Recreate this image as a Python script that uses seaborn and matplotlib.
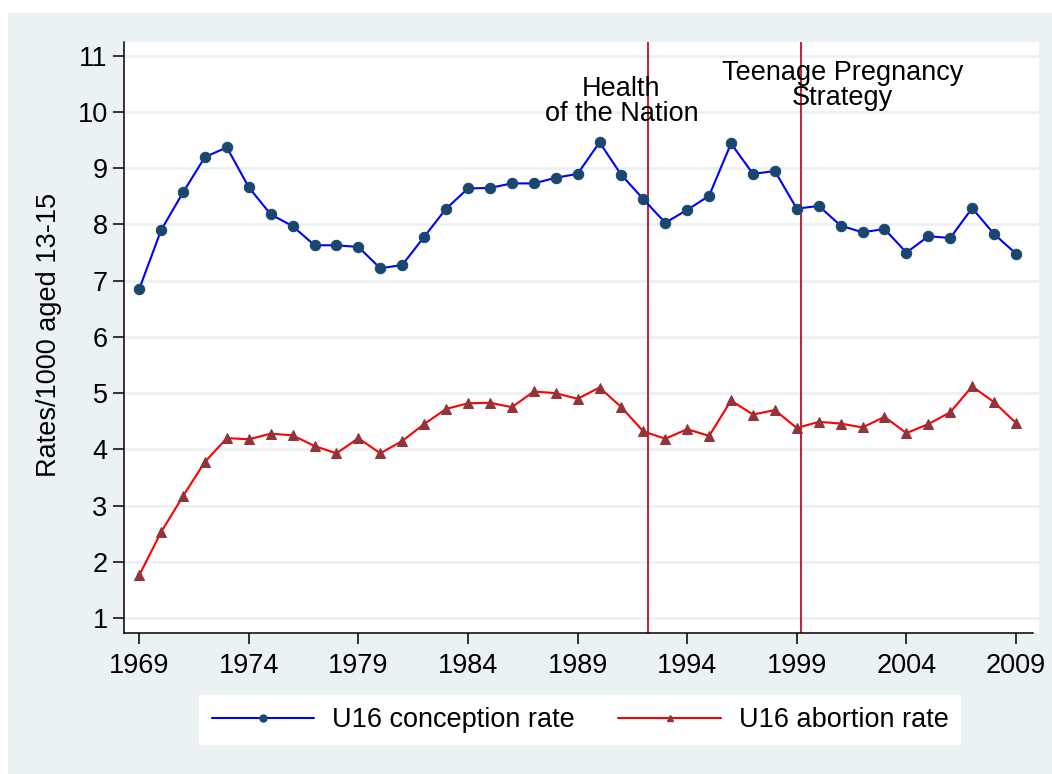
import matplotlib
matplotlib.use("Agg")
import matplotlib.pyplot as plt
import seaborn as sns
import numpy as np
import pandas as pd
from matplotlib.patches import Rectangle
from matplotlib.lines import Line2D

# --- data ---
years = list(range(1969, 2010))
conception_rate = [6.85, 7.90, 8.57, 9.20, 9.37, 8.66, 8.18, 7.97, 7.63, 7.63,
                   7.60, 7.22, 7.28, 7.78, 8.28, 8.64, 8.65, 8.73, 8.73, 8.83,
                   8.90, 9.46, 8.88, 8.45, 8.03, 8.26, 8.51, 9.44, 8.90, 8.95,
                   8.28, 8.33, 7.98, 7.86, 7.92, 7.50, 7.79, 7.76, 8.29, 7.83,
                   7.48]
abortion_rate = [1.76, 2.53, 3.17, 3.78, 4.20, 4.18, 4.28, 4.25, 4.06, 3.93,
                 4.20, 3.93, 4.15, 4.45, 4.72, 4.82, 4.83, 4.75, 5.03, 5.00,
                 4.90, 5.10, 4.75, 4.32, 4.19, 4.36, 4.24, 4.87, 4.62, 4.70,
                 4.38, 4.49, 4.46, 4.39, 4.58, 4.29, 4.45, 4.66, 5.12, 4.84,
                 4.47]
policy_years = [1992.2, 1999.2]
policy_labels = ["Health\nof the Nation", "Teenage Pregnancy\nStrategy"]
policy_label_pos = [(1991.0, 10.19), (2001.1, 10.47)]
xtick_years = list(range(1969, 2010, 5))
ytick_vals = list(range(1, 12))
series_names = ["U16 conception rate", "U16 abortion rate"]

df = pd.DataFrame({"year": years, "conception": conception_rate, "abortion": abortion_rate})

sns.set_style("ticks")
plt.rcParams['font.family'] = ['Liberation Sans', 'DejaVu Sans']
plt.rcParams['text.color'] = 'black'
plt.rcParams['axes.labelcolor'] = 'black'
plt.rcParams['xtick.color'] = 'black'
plt.rcParams['ytick.color'] = 'black'

BG = "#EAF2F3"
FS = 19.5

fig = plt.figure(figsize=(10.52, 7.74), dpi=100)
fig.patch.set_facecolor("white")
fig.patches.append(Rectangle((8 / 1052, 0), 1, 761 / 774, transform=fig.transFigure,
                             facecolor=BG, edgecolor="none", zorder=-10))

ax = fig.add_axes([124.3 / 1052, 140.7 / 774, 914.7 / 1052, 591.6 / 774])
ax.set_facecolor("white")

sns.lineplot(data=df, x="year", y="conception", ax=ax, color="#0000FF", linewidth=1.5,
             marker="o", markersize=7.5, markerfacecolor="#1a476f",
             markeredgecolor="#1a476f", zorder=3)
sns.lineplot(data=df, x="year", y="abortion", ax=ax, color="#FF0000", linewidth=1.5,
             marker="^", markersize=7.5, markerfacecolor="#90353b",
             markeredgecolor="#90353b", zorder=3)

for yr in policy_years:
    ax.axvline(yr, color="#C41E3A", linewidth=1.4, zorder=2)
for txt, (tx, ty) in zip(policy_labels, policy_label_pos):
    ax.text(tx, ty, txt, ha="center", va="center", fontsize=FS, linespacing=0.92,
            color="black", zorder=4)

ax.set_xlim(1968.32, 2010.05)
ax.set_ylim(0.73, 11.25)
ax.set_xticks(xtick_years)
ax.set_yticks(ytick_vals)
ax.tick_params(axis="both", labelsize=FS, length=8, width=1.1, direction="out",
               color="black", labelcolor="black")
ax.tick_params(axis="y", pad=4)
ax.tick_params(axis="x", pad=6)
ax.grid(axis="y", color=BG, linewidth=2, zorder=0)
ax.set_axisbelow(True)

for side in ["top", "right"]:
    ax.spines[side].set_visible(False)
for side in ["left", "bottom"]:
    ax.spines[side].set_linewidth(1.1)
    ax.spines[side].set_color("black")
ax.spines["bottom"].set_bounds(1968.32, 2009.78)

ax.set_xlabel("")
ax.set_ylabel("Rates/1000 aged 13-15", fontsize=FS, color="black")
ax.yaxis.set_label_coords(-0.068, 0.505)

handles = [
    Line2D([], [], color="#0000FF", linewidth=1.5, marker="o", markersize=5,
           markerfacecolor="#1a476f", markeredgecolor="#1a476f"),
    Line2D([], [], color="#FF0000", linewidth=1.5, marker="^", markersize=5,
           markerfacecolor="#90353b", markeredgecolor="#90353b"),
]
leg = fig.legend(handles, series_names, loc="center", bbox_to_anchor=(580 / 1052, 1 - 720 / 774),
                 ncol=2, fontsize=FS, frameon=True, fancybox=False, facecolor="white",
                 edgecolor="white", framealpha=1, handlelength=3.8, handletextpad=0.65,
                 columnspacing=1.6, borderpad=0.45, borderaxespad=0)
leg.get_frame().set_linewidth(0)
for t in leg.get_texts():
    t.set_color("black")

fig.savefig("out.png", dpi=100, facecolor=fig.get_facecolor())
